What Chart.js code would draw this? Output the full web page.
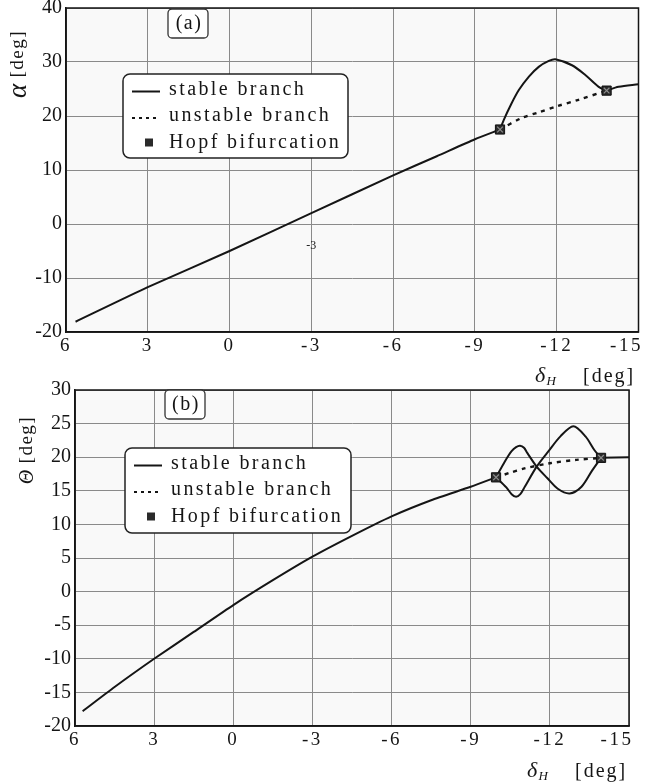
<!DOCTYPE html>
<html lang="en">
<head>
<meta charset="utf-8">
<title>Equilibrium branches vs elevator deflection</title>
<script src="https://cdn.jsdelivr.net/npm/chart.js@4.4.1/dist/chart.umd.min.js"></script>
<style>
  html, body { margin: 0; padding: 0; background: #fff; }
  #fig { position: relative; width: 646px; height: 782px; overflow: hidden; }
  #fig canvas { position: absolute; left: 0; }
  #chart-a { top: 0; }
  #chart-b { top: 370px; }
</style>
</head>
<body>
<div id="fig">
  <canvas id="chart-a" width="646" height="392"></canvas>
  <canvas id="chart-b" width="646" height="412"></canvas>
</div>
<script>
// ticks (x axis runs from 6 on the left to -15 on the right)
const xTicks = [6, 3, 0, -3, -6, -9, -12, -15];
const alphaTicks = [40, 30, 20, 10, 0, -10, -20];
const thetaTicks = [30, 25, 20, 15, 10, 5, 0, -5, -10, -15, -20];
const legendLabels = ['stable branch', 'unstable branch', 'Hopf bifurcation'];

// (a) alpha [deg]
const aStableX = [5.65, 3, 0, -3, -6, -7.6, -9, -9.92];
const aStableY = [-18.1, -11.7, -5, 2, 9, 12.55, 15.7, 17.5];
const aCycleX = [-9.92, -10.06, -10.31, -10.61, -10.98, -11.34, -11.71, -11.95, -12.56, -13.05, -13.54, -13.83];
const aCycleY = [17.5, 19.3, 22.0, 24.8, 27.3, 29.1, 30.2, 30.5, 29.4, 27.6, 25.4, 24.7];
const aAfterX = [-13.83, -14.27, -15];
const aAfterY = [24.7, 25.4, 25.9];
const aUnstableX = [-9.92, -10.7, -11.35, -12, -12.8, -13.83];
const aUnstableY = [17.5, 19.6, 20.7, 21.8, 23.0, 24.7];
const aHopfX = [-9.92, -13.83];
const aHopfY = [17.5, 24.7];

// (b) theta [deg]
const bStableX = [5.71, 4.5, 3, 1.5, 0, -1.5, -3, -4.5, -6, -7.5, -9, -9.96];
const bStableY = [-17.8, -14.2, -10, -6, -2, 1.7, 5.2, 8.3, 11.2, 13.6, 15.6, 17.0];
const bCycleUpX = [-9.96, -10.3, -10.55, -10.72, -10.87, -11.02, -11.15, -11.5, -11.9, -12.3, -12.75, -13.2, -13.6, -13.94];
const bCycleUpY = [17.0, 19.4, 20.9, 21.5, 21.7, 21.4, 20.6, 18.6, 16.9, 15.3, 14.6, 15.6, 18.0, 19.9];
const bCycleLowX = [-9.96, -10.35, -10.55, -10.72, -10.88, -11.05, -11.5, -11.95, -12.4, -12.89, -13.35, -13.7, -13.94];
const bCycleLowY = [17.0, 15.5, 14.5, 14.1, 14.5, 15.6, 18.6, 20.9, 23.1, 24.6, 23.1, 21.0, 19.9];
const bAfterX = [-13.94, -15];
const bAfterY = [19.9, 20.0];
const bUnstableX = [-9.96, -10.5, -11, -12, -13, -13.94];
const bUnstableY = [17.0, 17.7, 18.3, 19.1, 19.6, 19.9];
const bHopfX = [-9.96, -13.94];
const bHopfY = [17.0, 19.9];

const INK = '#151515';
const GRID = '#8a8a8a';
const SERIF = "'Liberation Serif', 'Times New Roman', serif";

function pts(xs, ys) {
    return xs.map((x, i) => ({ x: x, y: ys[i] }));
}

function solid(xs, ys, tension) {
    return { data: pts(xs, ys), showLine: true, borderColor: INK, borderWidth: 2,
             pointRadius: 0, tension: tension || 0, fill: false };
}

function dotted(xs, ys) {
    return { data: pts(xs, ys), showLine: true, borderColor: INK, borderWidth: 2.4,
             borderDash: [4, 5], pointRadius: 0, tension: 0.3, fill: false };
}

function hopf(xs, ys) {
    // square marker with a faint cross, as in the scan
    return [
        { data: pts(xs, ys), showLine: false, pointStyle: 'crossRot', pointRadius: 4,
          borderColor: '#8c8c8c', borderWidth: 1.2 },
        { data: pts(xs, ys), showLine: false, pointStyle: 'rect', pointRadius: 6.5,
          backgroundColor: '#2a2a2a', borderColor: '#111', borderWidth: 1 }
    ];
}

function text(ctx, str, x, y, font, spacing, align, baseline) {
    ctx.save();
    ctx.font = font;
    ctx.letterSpacing = (spacing || 0) + 'px';
    ctx.textAlign = align || 'left';
    ctx.textBaseline = baseline || 'middle';
    ctx.fillStyle = INK;
    ctx.fillText(str, x, y);
    ctx.restore();
}

// rotated axis title: italic symbol followed by " [deg]"
function yTitle(ctx, sym, symFont, cx, cy) {
    ctx.save();
    ctx.translate(cx, cy);
    ctx.rotate(-Math.PI / 2);
    ctx.textBaseline = 'middle';
    ctx.fillStyle = INK;
    ctx.font = symFont;
    const w1 = ctx.measureText(sym).width;
    ctx.font = '19px ' + SERIF;
    ctx.letterSpacing = '1.5px';
    const w2 = ctx.measureText(' [deg]').width;
    let x = -(w1 + w2) / 2;
    ctx.letterSpacing = '0px';
    ctx.font = symFont;
    ctx.fillText(sym, x, 1);
    ctx.font = '19px ' + SERIF;
    ctx.letterSpacing = '1.5px';
    ctx.fillText(' [deg]', x + w1, 0);
    ctx.restore();
}

function xTitle(ctx, x0, base) {
    text(ctx, 'δ', x0, base, 'italic 22px ' + SERIF, 0, 'left', 'alphabetic');
    text(ctx, 'H', x0 + 11.5, base + 3, 'italic 13px ' + SERIF, 0, 'left', 'alphabetic');
    text(ctx, '[deg]', x0 + 48, base, '20px ' + SERIF, 2, 'left', 'alphabetic');
}

function drawLegend(ctx, L) {
    ctx.save();
    ctx.beginPath();
    ctx.roundRect(L.x, L.y, L.w, L.h, 7);
    ctx.fillStyle = '#fff';
    ctx.fill();
    ctx.lineWidth = 1.5;
    ctx.strokeStyle = '#222';
    ctx.stroke();
    legendLabels.forEach((label, i) => {
        const cy = L.y + 15.5 + i * 26.5;
        ctx.strokeStyle = INK;
        ctx.fillStyle = '#2a2a2a';
        if (i < 2) {
            ctx.beginPath();
            ctx.lineWidth = i === 0 ? 2 : 2.2;
            ctx.setLineDash(i === 0 ? [] : [3, 4]);
            ctx.moveTo(L.x + 9, cy + 2);
            ctx.lineTo(L.x + 37, cy + 2);
            ctx.stroke();
            ctx.setLineDash([]);
        } else {
            ctx.fillRect(L.x + 22, cy - 4, 8, 8);
        }
        text(ctx, label, L.x + 46, cy, '20px ' + SERIF, 2.4);
    });
    ctx.restore();
}

function decorFor(p) {
    return {
        id: 'decor',
        beforeDraw(chart) {
            const { ctx, chartArea: a } = chart;
            ctx.letterSpacing = '0px';
            ctx.save();
            ctx.fillStyle = '#f9f9f9';
            ctx.fillRect(a.left, a.top, a.right - a.left, a.bottom - a.top);
            ctx.restore();
        },
        afterDatasetsDraw(chart) {
            const { ctx, chartArea: a } = chart;
            ctx.save();
            ctx.strokeStyle = INK;
            ctx.lineWidth = 1.5;
            ctx.strokeRect(a.left, a.top, a.right - a.left, a.bottom - a.top);
            ctx.restore();

            // panel tag "(a)" / "(b)"
            ctx.save();
            ctx.beginPath();
            ctx.roundRect(p.tag.x, p.tag.y, 40, 29, 4);
            ctx.fillStyle = '#fff';
            ctx.fill();
            ctx.lineWidth = 1.3;
            ctx.strokeStyle = '#333';
            ctx.stroke();
            ctx.restore();
            text(ctx, p.tag.label, p.tag.x + 21, p.tag.y + 15, '20px ' + SERIF, 1.5, 'center');

            drawLegend(ctx, p.legend);
            yTitle(ctx, p.sym, p.symFont, p.yTitleX, p.yTitleY);
            xTitle(ctx, p.xTitleX, p.xTitleBase);

            if (p.note) {
                const s = chart.scales;
                text(ctx, p.note.label, s.x.getPixelForValue(p.note.x), s.y.getPixelForValue(p.note.y),
                     '12px ' + SERIF, 0, 'center');
            }
            // x tick labels are drawn after this (ticks.z = 1) with wider spacing
            ctx.letterSpacing = '2.5px';
        },
        afterDraw(chart) {
            chart.ctx.letterSpacing = '0px';
        }
    };
}

function makePanel(canvasId, p) {
    return new Chart(document.getElementById(canvasId), {
        type: 'scatter',
        data: { datasets: p.datasets },
        options: {
            responsive: false,
            animation: false,
            events: [],
            layout: { padding: { top: p.top, right: p.right, left: 0, bottom: 0 } },
            plugins: { legend: { display: false }, tooltip: { enabled: false } },
            scales: {
                x: {
                    type: 'linear', reverse: true, min: -15, max: 6,
                    afterBuildTicks: s => { s.ticks = [...xTicks].sort((a, b) => a - b).map(v => ({ value: v })); },
                    afterFit: s => { s.height = p.xAxisH; s.paddingLeft = 0; s.paddingRight = 0; },
                    grid: { color: GRID, lineWidth: 1, drawTicks: false },
                    border: { color: INK, width: 1.5 },
                    ticks: { z: 1, padding: 3, color: INK, font: { family: SERIF, size: 19 },
                             maxRotation: 0, autoSkip: false,
                             // the last label sits a little inside the frame, as in the original
                             callback: v => v === -15 ? String(v) + '\u2002\u2002' : String(v) }
                },
                y: {
                    type: 'linear', min: p.yMin, max: p.yMax,
                    afterBuildTicks: s => { s.ticks = [...p.yTicks].sort((a, b) => a - b).map(v => ({ value: v })); },
                    afterFit: s => { s.width = p.yAxisW; s.paddingTop = 0; s.paddingBottom = 0; },
                    grid: { color: GRID, lineWidth: 1, drawTicks: false },
                    border: { color: INK, width: 1.5 },
                    ticks: { padding: 4, color: INK, font: { family: SERIF, size: 20 },
                             autoSkip: false, callback: v => String(v) }
                }
            }
        },
        plugins: [decorFor(p)]
    });
}

makePanel('chart-a', {
    top: 8, right: 6, xAxisH: 60, yAxisW: 66,
    yMin: -20, yMax: 40, yTicks: alphaTicks,
    datasets: [
        ...hopf(aHopfX, aHopfY),
        solid(aStableX, aStableY, 0.2),
        solid(aCycleX, aCycleY, 0.3),
        solid(aAfterX, aAfterY, 0.3),
        dotted(aUnstableX, aUnstableY)
    ],
    tag: { x: 168, y: 9, label: '(a)' },
    legend: { x: 123, y: 74, w: 225, h: 84 },
    sym: 'α', symFont: 'italic 27px ' + SERIF, yTitleX: 18, yTitleY: 64,
    xTitleX: 535, xTitleBase: 382,
    note: { label: '-3', x: -3, y: -4 }
});

makePanel('chart-b', {
    top: 20, right: 17, xAxisH: 56, yAxisW: 75,
    yMin: -20, yMax: 30, yTicks: thetaTicks,
    datasets: [
        ...hopf(bHopfX, bHopfY),
        solid(bStableX, bStableY, 0.2),
        solid(bCycleUpX, bCycleUpY, 0.3),
        solid(bCycleLowX, bCycleLowY, 0.3),
        solid(bAfterX, bAfterY, 0),
        dotted(bUnstableX, bUnstableY)
    ],
    tag: { x: 165, y: 20, label: '(b)' },
    legend: { x: 125, y: 78, w: 226, h: 85 },
    sym: 'Θ', symFont: 'italic 20px ' + SERIF, yTitleX: 27, yTitleY: 80,
    xTitleX: 527, xTitleBase: 407
});
</script>
</body>
</html>
